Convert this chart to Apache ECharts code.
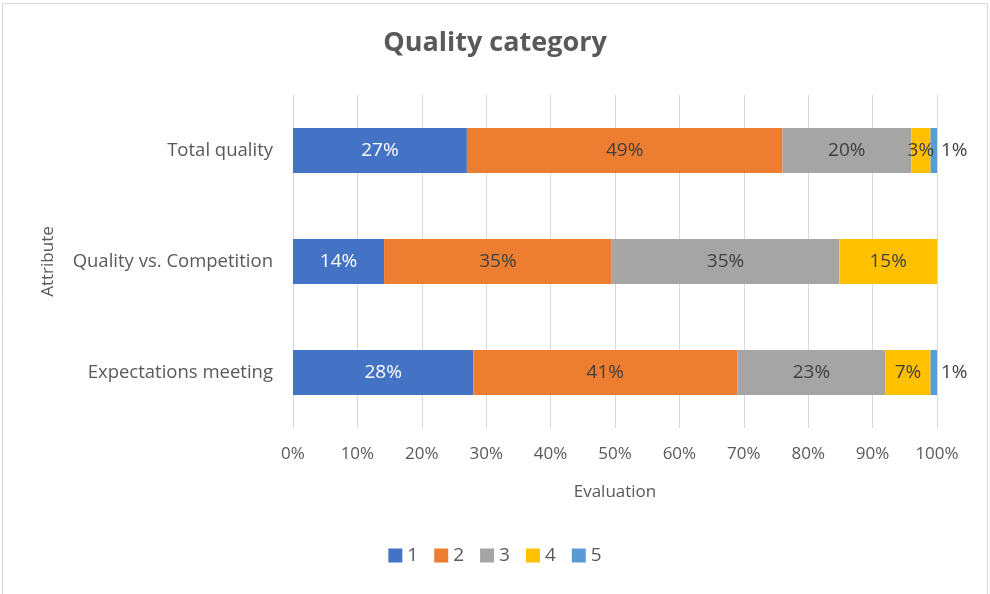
<!DOCTYPE html>
<html>
  <head>
    <meta charset="UTF-8" />
    <title>Quality category</title>
    <script src="https://cdn.jsdelivr.net/npm/echarts@6/dist/echarts.min.js"></script>
    <style>
      html, body { margin: 0; padding: 0; background: #fff; }
    </style>
  </head>
  <body>
    <div id="chart" style="width: 990px; height: 594px"></div>
  </body>
  <script>
// categories bottom -> top, as drawn
let categories = ['Expectations meeting', 'Quality vs. Competition', 'Total quality'];
let seriesNames = ['1', '2', '3', '4', '5'];
let colors = ['#4472c4', '#ed7d31', '#a5a5a5', '#ffc000', '#5b9bd5'];

// percentages, per category (same order as categories)
let rating1 = [28, 14, 27];
let rating2 = [41, 35, 49];
let rating3 = [23, 35, 20];
let rating4 = [7, 15, 3];
let rating5 = [1, 0, 1];

let xTicks = [0, 10, 20, 30, 40, 50, 60, 70, 80, 90, 100];

let allRatings = [rating1, rating2, rating3, rating4, rating5];
let totals = categories.map((c, i) => allRatings.reduce((s, r) => s + r[i], 0));

let labelColors = ['#ffffff', '#404040', '#404040', '#404040', '#404040'];

let myChart = echarts.init(document.getElementById('chart'));

let series = allRatings.map((r, k) => ({
  name: seriesNames[k],
  type: 'bar',
  stack: 'total',
  barWidth: 45,
  itemStyle: { color: colors[k] },
  label: {
    show: true,
    position: k === 4 ? 'right' : 'inside',
    distance: 4,
    color: labelColors[k],
    fontFamily: 'Open Sans',
    fontSize: 19,
    formatter: p => (r[p.dataIndex] > 0 ? r[p.dataIndex] + '%' : '')
  },
  data: r.map((v, i) => (v / totals[i]) * 100)
}));

myChart.setOption({
  animation: false,
  textStyle: { fontFamily: 'Open Sans' },
  title: {
    text: 'Quality category',
    left: 'center',
    top: 25,
    textStyle: { fontFamily: 'Open Sans', fontWeight: 'bold', fontSize: 27, color: '#595959' }
  },
  legend: {
    data: seriesNames,
    bottom: 24,
    left: 'center',
    icon: 'rect',
    itemWidth: 14,
    itemHeight: 14,
    itemGap: 16,
    textStyle: { fontFamily: 'Open Sans', fontSize: 19, color: '#595959' }
  },
  grid: { left: 293, right: 53, top: 95, bottom: 166 },
  xAxis: {
    type: 'value',
    min: 0,
    max: 100,
    interval: 10,
    name: 'Evaluation',
    nameLocation: 'middle',
    nameGap: 56,
    nameTextStyle: { fontFamily: 'Open Sans', fontSize: 17, color: '#595959' },
    axisLine: { show: false },
    axisTick: { show: false },
    axisLabel: {
      margin: 18,
      fontFamily: 'Open Sans',
      fontSize: 17,
      color: '#595959',
      formatter: v => (xTicks.includes(v) ? v + '%' : '')
    },
    splitLine: { lineStyle: { color: '#d9d9d9', width: 1 } }
  },
  yAxis: {
    type: 'category',
    data: categories,
    name: 'Attribute',
    nameLocation: 'middle',
    nameGap: 236,
    nameRotate: 90,
    nameTextStyle: { fontFamily: 'Open Sans', fontSize: 17, color: '#595959' },
    axisLine: { show: true, lineStyle: { color: '#d9d9d9' } },
    axisTick: { show: false },
    axisLabel: { margin: 20, fontFamily: 'Open Sans', fontSize: 18.5, color: '#595959' }
  },
  graphic: [
    {
      type: 'rect',
      shape: { x: 2.5, y: 3.5, width: 985, height: 600 },
      style: { fill: 'none', stroke: '#d9d9d9', lineWidth: 1 },
      silent: true
    }
  ],
  series: series
});
  </script>
</html>
